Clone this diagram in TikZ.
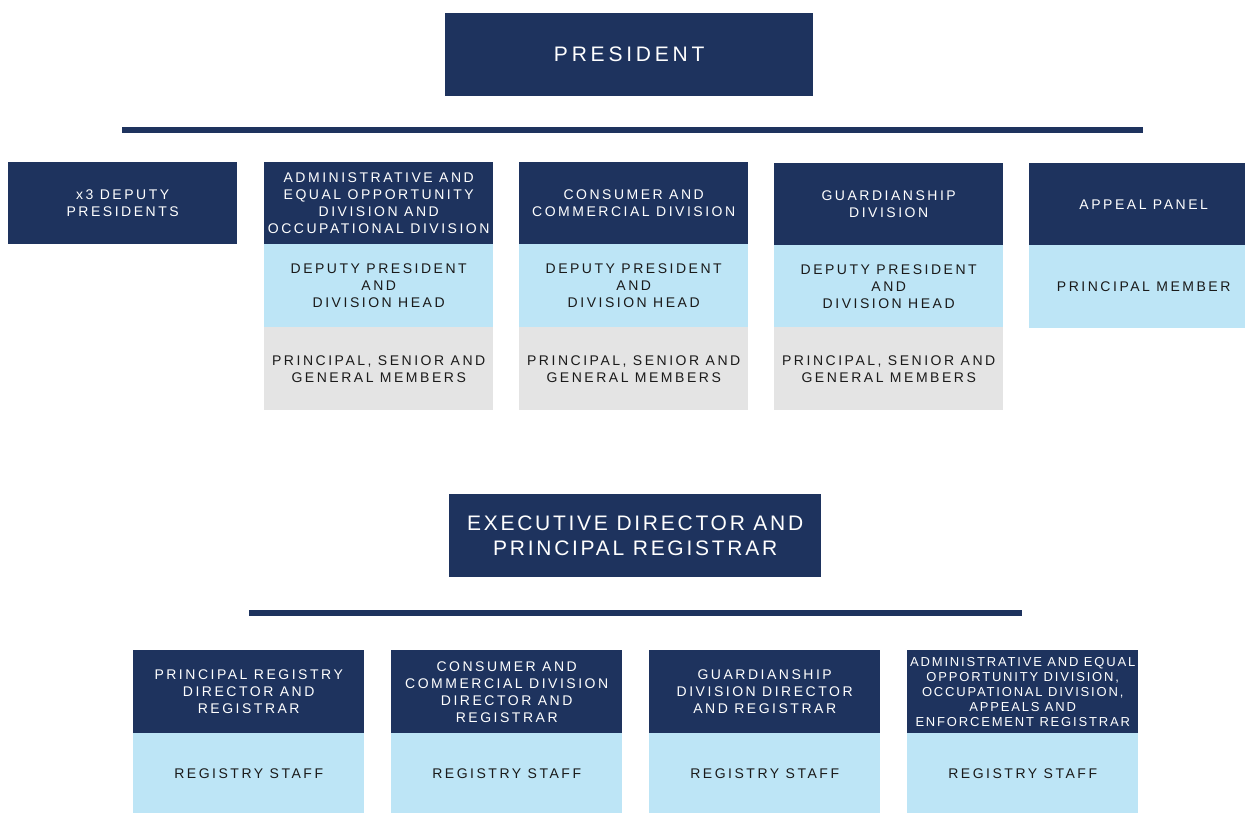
\documentclass[tikz,border=0pt]{standalone}
\usepackage{fontspec}
\newfontfamily\lsf[LetterSpace=18]{Liberation Sans}
\newfontfamily\lsfb[LetterSpace=13]{Liberation Sans}
\newfontfamily\lsfc[LetterSpace=14]{Liberation Sans}
\definecolor{navy}{HTML}{1E335E}
\definecolor{lightblue}{HTML}{BDE5F6}
\definecolor{lightgray}{HTML}{E4E4E4}
\definecolor{ink}{HTML}{1A1A1A}
\begin{document}
\begin{tikzpicture}[x=1pt,y=-1pt,
  box/.style={anchor=north west,inner sep=0pt,align=center,minimum width=229pt,minimum height=82pt,
     font=\lsf\fontsize{14}{17}\selectfont},
  darkbox/.style={box,fill=navy,text=white},
  bluebox/.style={box,fill=lightblue,text=ink},
  graybox/.style={box,fill=lightgray,text=ink},
  bigbox/.style={darkbox,font=\lsf\fontsize{21}{25}\selectfont},
  rule/.style={line width=6pt,draw=navy}]
\useasboundingbox (0,0) rectangle (1245,813);
\clip (0,0) rectangle (1245,813);
% top
\node[bigbox,minimum width=368pt,minimum height=83pt] (pres) at (445,13) {PRESIDENT};
\coordinate (r1a) at (122,130); \coordinate (r1b) at (1143,130);
\draw[rule] (r1a) -- (r1b);
% row 1
\node[darkbox] (dep) at (8,162) {x3 DEPUTY\\PRESIDENTS};
\node[darkbox] (adm) at (264,162) {ADMINISTRATIVE AND\\EQUAL OPPORTUNITY\\DIVISION AND\\OCCUPATIONAL DIVISION};
\node[bluebox,minimum height=83pt] (admh) at (264,244) {DEPUTY PRESIDENT\\AND\\DIVISION HEAD};
\node[graybox,minimum height=83pt] (admm) at (264,327) {PRINCIPAL, SENIOR AND\\GENERAL MEMBERS};
\node[darkbox] (con) at (519,162) {CONSUMER AND\\COMMERCIAL DIVISION};
\node[bluebox,minimum height=83pt] (conh) at (519,244) {DEPUTY PRESIDENT\\AND\\DIVISION HEAD};
\node[graybox,minimum height=83pt] (conm) at (519,327) {PRINCIPAL, SENIOR AND\\GENERAL MEMBERS};
\node[darkbox] (gua) at (774,163) {GUARDIANSHIP\\DIVISION};
\node[bluebox] (guah) at (774,245) {DEPUTY PRESIDENT\\AND\\DIVISION HEAD};
\node[graybox,minimum height=83pt] (guam) at (774,327) {PRINCIPAL, SENIOR AND\\GENERAL MEMBERS};
\node[darkbox] (app) at (1029,163) {APPEAL PANEL};
\node[bluebox,minimum height=83pt] (apph) at (1029,245) {PRINCIPAL MEMBER};
% executive
\node[bigbox,font=\lsfb\fontsize{21}{25}\selectfont,minimum width=372pt,minimum height=83pt] (exec) at (449,494) {EXECUTIVE DIRECTOR AND\\PRINCIPAL REGISTRAR};
\coordinate (r2a) at (249,613); \coordinate (r2b) at (1022,613);
\draw[rule] (r2a) -- (r2b);
% bottom row
\node[darkbox,minimum width=231pt,minimum height=83pt] (b1) at (133,650) {PRINCIPAL REGISTRY\\DIRECTOR AND\\REGISTRAR};
\node[bluebox,minimum width=231pt,minimum height=80pt] (b1s) at (133,733) {REGISTRY STAFF};
\node[darkbox,minimum width=231pt,minimum height=83pt] (b2) at (391,650) {CONSUMER AND\\COMMERCIAL DIVISION\\DIRECTOR AND\\REGISTRAR};
\node[bluebox,minimum width=231pt,minimum height=80pt] (b2s) at (391,733) {REGISTRY STAFF};
\node[darkbox,minimum width=231pt,minimum height=83pt] (b3) at (649,650) {GUARDIANSHIP\\DIVISION DIRECTOR\\AND REGISTRAR};
\node[bluebox,minimum width=231pt,minimum height=80pt] (b3s) at (649,733) {REGISTRY STAFF};
\node[darkbox,minimum width=231pt,minimum height=83pt,font=\lsfc\fontsize{13}{15}\selectfont] (b4) at (907,650) {ADMINISTRATIVE AND EQUAL\\OPPORTUNITY DIVISION,\\OCCUPATIONAL DIVISION,\\APPEALS AND\\ENFORCEMENT REGISTRAR};
\node[bluebox,minimum width=231pt,minimum height=80pt] (b4s) at (907,733) {REGISTRY STAFF};
\end{tikzpicture}
\end{document}
